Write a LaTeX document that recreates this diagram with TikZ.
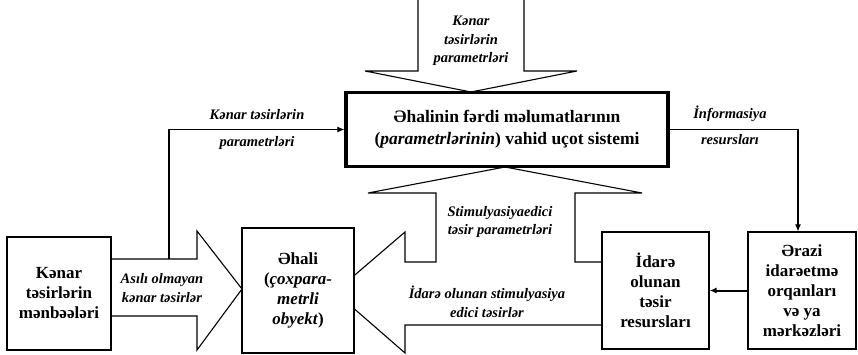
\documentclass[tikz,border=0pt]{standalone}
\usepackage{fontspec}
\setmainfont{Liberation Serif}
\usetikzlibrary{arrows.meta}
\begin{document}
\begin{tikzpicture}[x=1pt,y=-1pt,
  box/.style={draw,line width=1.1pt,fill=white,align=center,inner sep=0pt,font=\fontsize{17}{20}\selectfont\bfseries},
  lbl/.style={align=center,inner sep=0pt,font=\fontsize{14.5}{18.5}\selectfont\bfseries\itshape},
  outline/.style={line width=1.1pt,line join=miter},
  arr/.style={line width=1.1pt,-{Latex[length=7pt,width=6pt]}}]
\useasboundingbox (0,0) rectangle (858,355);
% big arrow shapes
\draw[outline] (418,-3) -- (418,71) -- (365,71) -- (471,92) -- (577,71) -- (524,71) -- (524,-3);
\draw[outline] (602,262) -- (575,262) -- (575,193) -- (642,193) -- (505,167) -- (368,193) -- (436,193) -- (436,262) -- (405,262) -- (405,232) -- (335,292) -- (405,353) -- (405,325) -- (602,325);
\draw[outline] (111,259) -- (197,259) -- (197,231) -- (242,289) -- (197,350) -- (197,316) -- (111,316);
% boxes
\node[box,minimum width=104pt,minimum height=113pt] (src) at (59,293.5) {Kənar\\təsirlərin\\mənbəələri};
\node[box,minimum width=112pt,minimum height=125pt] (pop) at (298,290.5) {Əhali\\(\textit{çoxpara-}\\\textit{metrli}\\\textit{obyekt})};
\node[box,line width=3.2pt,minimum width=322pt,minimum height=74pt,font=\fontsize{17.5}{22}\selectfont\bfseries] (sys) at (507,129.5) {Əhalinin fərdi məlumatlarının\\(\textit{parametrlərinin}) vahid uçot sistemi};
\node[box,minimum width=107pt,minimum height=117pt] (idr) at (655.5,290.5) {İdarə\\olunan\\təsir\\resursları};
\node[box,minimum width=108pt,minimum height=117pt] (era) at (802,290.5) {Ərazi\\idarəetmə\\orqanları\\və ya\\mərkəzləri};
% connectors
\coordinate (j) at (169,259);
\draw[arr] (j) |- (sys.west);
\draw[arr] (sys.east) -| ([xshift=-4pt]era.north);
\draw[arr,line width=2pt] (era.west) -- (idr.east);
% labels
\node[lbl] at (471,41) {Kənar\\təsirlərin\\parametrləri};
\node[lbl] at (257,115) {Kənar təsirlərin};
\node[lbl] at (257,143) {parametrləri};
\node[lbl] at (730,114) {İnformasiya};
\node[lbl] at (730,140) {resursları};
\node[lbl] at (500,222) {Stimulyasiyaedici\\təsir parametrləri};
\node[lbl] at (487,302) {İdarə olunan stimulyasiya\\edici təsirlər};
\node[lbl] at (162,288) {Asılı olmayan\\kənar təsirlər};
\end{tikzpicture}
\end{document}
